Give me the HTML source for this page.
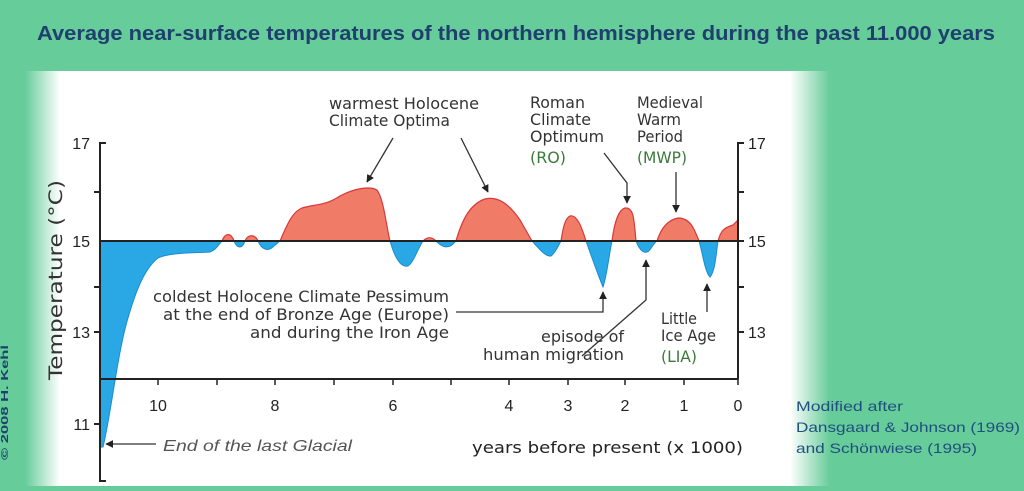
<!DOCTYPE html>
<html><head><meta charset="utf-8"><style>
html,body{margin:0;padding:0;background:#66cc9a;}
svg{display:block;font-family:"Liberation Sans",sans-serif;}
.s{font-family:"DejaVu Sans","Liberation Sans",sans-serif;}
</style></head><body>
<svg width="1024" height="491" viewBox="0 0 1024 491" xmlns="http://www.w3.org/2000/svg">
<defs>
<linearGradient id="gl" x1="0" x2="1"><stop offset="0" stop-color="#66cc9a"/><stop offset="1" stop-color="#fff"/></linearGradient>
<linearGradient id="gr" x1="0" x2="1"><stop offset="0" stop-color="#fff"/><stop offset="1" stop-color="#66cc9a"/></linearGradient>
<clipPath id="up"><rect x="0" y="0" width="1024" height="241"/></clipPath>
<clipPath id="dn"><rect x="0" y="241" width="1024" height="250"/></clipPath>
<marker id="ah" viewBox="0 0 10 10" refX="9" refY="5" markerWidth="6" markerHeight="6" orient="auto"><path d="M0,0L10,5L0,10z" fill="#222"/></marker>
<path id="c" d="M100,241 L100,447 L103,447 C110,420 118,350 128,318 C136,290 145,268 158,258 C170,252 200,253 210,252 C216,250 218,245 222,241 C225,233 231,232 234,241 C237,248 242,250 245,241 C248,234 255,234 258,241 C262,250 268,252 274,246 L280,241 C287,225 292,212 302,208 C315,204 325,206 340,196 C355,188 370,186 377,190 C384,200 386,225 390,241 C394,255 400,268 408,266 C414,262 418,248 423,241 C428,236 432,237 436,241 C441,246 446,249 452,245 L456,241 C462,220 470,204 485,199 C498,196 510,205 520,220 L532,241 C540,250 546,257 551,256 C556,252 558,246 561,241 C563,228 565,218 570,216 C577,214 582,228 586,241 C592,258 598,275 603,287 C607,275 609,255 612,241 C614,225 618,210 625,208 C634,207 634,220 636,241 C640,252 645,254 649,251 C652,247 654,243 657,241 C661,228 668,220 678,218 C690,218 694,228 699,241 C703,255 705,272 710,277 C715,272 716,255 718,241 C721,230 724,228 733,225 L738,220 L738,241 Z"/>
</defs>
<rect width="1024" height="491" fill="#66cc9a"/>
<text x="37" y="40" font-size="20" font-weight="bold" fill="#1f3f6e" textLength="958" lengthAdjust="spacingAndGlyphs">Average near-surface temperatures of the northern hemisphere during the past 11.000 years</text>
<rect x="25" y="71" width="35" height="415" fill="url(#gl)"/>
<rect x="60" y="71" width="730" height="415" fill="#fff"/>
<rect x="790" y="71" width="40" height="415" fill="url(#gr)"/>
<use href="#c" fill="#f07b67" stroke="#d9383a" stroke-width="1.2" clip-path="url(#up)"/>
<use href="#c" fill="#2aa8e6" stroke="#1a8ccc" stroke-width="1" clip-path="url(#dn)"/>
<g stroke="#222" stroke-width="2" fill="none">
<line x1="100" y1="241" x2="738" y2="241"/>
<line x1="100" y1="379" x2="738" y2="379"/>
<path d="M106,143 H100 V481 H106"/>
<line x1="94" y1="192" x2="100" y2="192"/><line x1="94" y1="287" x2="100" y2="287"/>
<line x1="94" y1="332" x2="100" y2="332"/><line x1="94" y1="424" x2="100" y2="424"/>
<path d="M744,143 H738 V379"/>
<line x1="738" y1="192" x2="744" y2="192"/><line x1="738" y1="241" x2="744" y2="241"/>
<line x1="738" y1="287" x2="744" y2="287"/><line x1="738" y1="332" x2="744" y2="332"/>
<g stroke-width="1.5">
<line x1="158" y1="379" x2="158" y2="385"/><line x1="217" y1="379" x2="217" y2="385"/>
<line x1="275" y1="379" x2="275" y2="385"/><line x1="334" y1="379" x2="334" y2="385"/>
<line x1="393" y1="379" x2="393" y2="385"/><line x1="451" y1="379" x2="451" y2="385"/>
<line x1="509" y1="379" x2="509" y2="385"/><line x1="568" y1="379" x2="568" y2="385"/>
<line x1="625" y1="379" x2="625" y2="385"/><line x1="684" y1="379" x2="684" y2="385"/>
<line x1="738" y1="379" x2="738" y2="385"/>
</g>
</g>
<g font-size="16" fill="#222">
<text x="90" y="149" text-anchor="end">17</text><text x="90" y="247" text-anchor="end">15</text>
<text x="90" y="338" text-anchor="end">13</text><text x="90" y="430" text-anchor="end">11</text>
<text x="748" y="149">17</text><text x="748" y="247">15</text><text x="748" y="338">13</text>
<g text-anchor="middle">
<text x="158" y="411">10</text><text x="275" y="411">8</text><text x="393" y="411">6</text>
<text x="509" y="411">4</text><text x="568" y="411">3</text><text x="625" y="411">2</text>
<text x="684" y="411">1</text><text x="738" y="411">0</text>
</g>
</g>
<text transform="translate(62,380) rotate(-90)" font-size="19" fill="#333" class="s" textLength="200" lengthAdjust="spacingAndGlyphs">Temperature (°C)</text>
<text transform="translate(8,460) rotate(-90)" font-size="10" font-weight="bold" fill="#1f3f6e" textLength="115" lengthAdjust="spacingAndGlyphs">© 2008 H. Kehl</text>
<g class="s" font-size="16" fill="#333">
<text x="329" y="109" textLength="150" lengthAdjust="spacingAndGlyphs">warmest Holocene</text>
<text x="329" y="126" textLength="121" lengthAdjust="spacingAndGlyphs">Climate Optima</text>
<text x="153" y="302" textLength="296" lengthAdjust="spacingAndGlyphs">coldest Holocene Climate Pessimum</text>
<text x="163" y="320" textLength="286" lengthAdjust="spacingAndGlyphs">at the end of Bronze Age (Europe)</text>
<text x="250" y="338" textLength="199" lengthAdjust="spacingAndGlyphs">and during the Iron Age</text>
<text x="541" y="342" textLength="83" lengthAdjust="spacingAndGlyphs">episode of</text>
<text x="483" y="360" textLength="141" lengthAdjust="spacingAndGlyphs">human migration</text>
<text x="530" y="108" textLength="55" lengthAdjust="spacingAndGlyphs">Roman</text>
<text x="530" y="125" textLength="61" lengthAdjust="spacingAndGlyphs">Climate</text>
<text x="530" y="142" textLength="74" lengthAdjust="spacingAndGlyphs">Optimum</text>
<text x="530" y="163" fill="#3a7a3a" textLength="36" lengthAdjust="spacingAndGlyphs">(RO)</text>
<text x="637" y="108" textLength="66" lengthAdjust="spacingAndGlyphs">Medieval</text>
<text x="637" y="125" textLength="44" lengthAdjust="spacingAndGlyphs">Warm</text>
<text x="637" y="142" textLength="46" lengthAdjust="spacingAndGlyphs">Period</text>
<text x="637" y="163" fill="#3a7a3a" textLength="50" lengthAdjust="spacingAndGlyphs">(MWP)</text>
<text x="661" y="324" textLength="36" lengthAdjust="spacingAndGlyphs">Little</text>
<text x="661" y="341" textLength="55" lengthAdjust="spacingAndGlyphs">Ice Age</text>
<text x="661" y="362" fill="#3a7a3a" textLength="36" lengthAdjust="spacingAndGlyphs">(LIA)</text>
<text x="472" y="453" fill="#222" textLength="271" lengthAdjust="spacingAndGlyphs">years before present (x 1000)</text>
</g>
<text x="163" y="451" font-size="16" font-style="italic" fill="#555" textLength="189" lengthAdjust="spacingAndGlyphs">End of the last Glacial</text>
<g stroke="#333" stroke-width="1.3" fill="none" marker-end="url(#ah)">
<path d="M393,138 L367,182"/>
<path d="M461,138 L488,192"/>
<path d="M456,312 H603 V292"/>
<path d="M582,356 L646,300 V260"/>
<path d="M604,153 L627,183 V203"/>
<path d="M676,172 V212"/>
<path d="M707,312 V284"/>
<path d="M156,444 H106"/>
</g>
<g font-size="14" fill="#1f4f7e">
<text x="796" y="411" textLength="107" lengthAdjust="spacingAndGlyphs">Modified after</text>
<text x="796" y="432" textLength="224" lengthAdjust="spacingAndGlyphs">Dansgaard &amp; Johnson (1969)</text>
<text x="796" y="453" textLength="181" lengthAdjust="spacingAndGlyphs">and Schönwiese (1995)</text>
</g>
</svg>
</body></html>
